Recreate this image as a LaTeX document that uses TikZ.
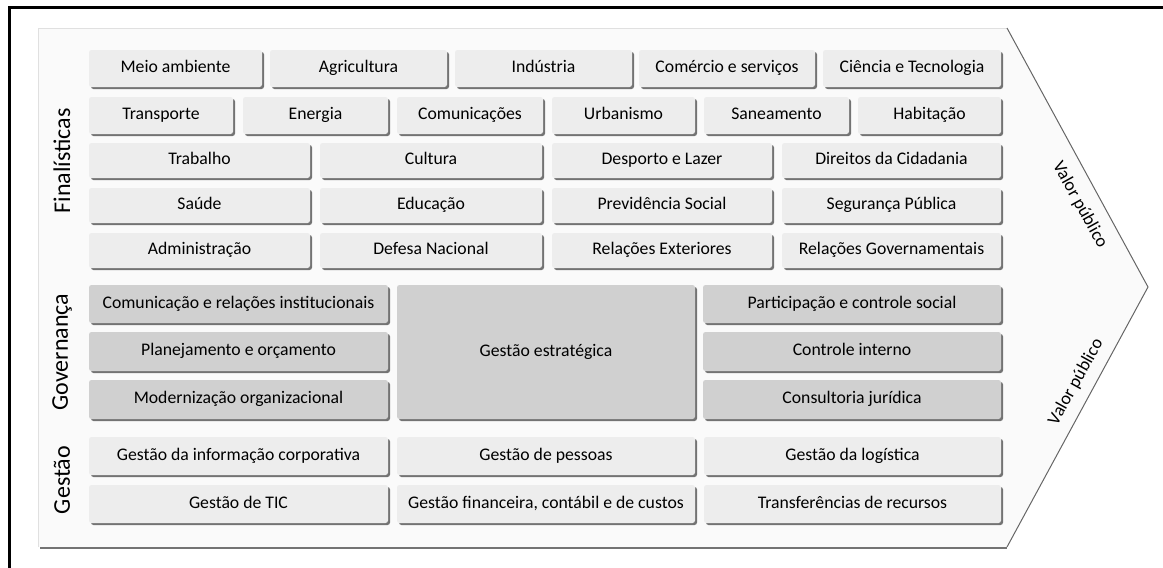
\documentclass[tikz,border=0pt]{standalone}
\usepackage{fontspec}
\setmainfont{Carlito}
\usetikzlibrary{shadows}
\definecolor{boxlight}{HTML}{EDEDED}
\definecolor{boxgov}{HTML}{D0D0D0}
\definecolor{panelfill}{HTML}{FAFAFA}
\tikzset{
  cell/.style={rounded corners=2.5pt, draw=none, inner sep=0pt,
    text height=11.5pt, text depth=3.5pt,
    copy shadow={shadow xshift=2pt, shadow yshift=-2pt, fill=black!55, draw=none},
    font=\fontsize{17.7}{20}\selectfont, text=black},
  light/.style={cell, fill=boxlight},
  gov/.style={cell, fill=boxgov},
  sidelabel/.style={rotate=90, font=\fontsize{24}{28}\selectfont},
  vlabel/.style={font=\fontsize{18}{21}\selectfont},
  edge/.style={draw=black!60, line width=1pt},
}
\newcommand{\bx}[7]{\node[#6, minimum width={(#4-#2)*1pt}, minimum height={(#5-#3)*1pt}] (#1) at ({(#2+#4)/2},{(#3+#5)/2}) {#7};}
\begin{document}
\begin{tikzpicture}[x=1pt,y=-1pt]
\useasboundingbox (0,0) rectangle (1163,568);
% outer frame (top and left only)
\draw[line width=2.2pt] (9.5,568) -- (9.5,7.5) -- (1163,7.5);
% panel
\coordinate (pTL) at (38,28);
\coordinate (pTR) at (1007,28);
\coordinate (pTip) at (1148,287);
\coordinate (pBR) at (1007,547);
\coordinate (pBL) at (38,547);
\fill[panelfill] (pTL) -- (pTR) -- (pTip) -- (pBR) -- (pBL) -- cycle;
\draw[black!12, line width=0.6pt] (pBL) -- (pTL) -- (pTR);
\draw[black!55, line width=2.5pt] (40,548) -- (1007,548);
\draw[edge] (pTR) -- (pTip) -- (pBR);
% Row 1
\bx{r1a}{89}{50}{262}{87}{light}{Meio ambiente}
\bx{r1b}{270}{50}{447}{87}{light}{Agricultura}
\bx{r1c}{455}{50}{632}{87}{light}{Indústria}
\bx{r1d}{639}{50}{815}{87}{light}{Comércio e serviços}
\bx{r1e}{823}{50}{1001}{87}{light}{Ciência e Tecnologia}
% Row 2
\bx{r2a}{89}{97}{233}{134}{light}{Transporte}
\bx{r2b}{243}{97}{388}{134}{light}{Energia}
\bx{r2c}{397}{97}{543}{134}{light}{Comunicações}
\bx{r2d}{552}{97}{695}{134}{light}{Urbanismo}
\bx{r2e}{704}{97}{849}{134}{light}{Saneamento}
\bx{r2f}{858}{97}{1001}{134}{light}{Habitação}
% Row 3
\bx{r3a}{89}{143}{310}{178}{light}{Trabalho}
\bx{r3b}{320}{143}{542}{178}{light}{Cultura}
\bx{r3c}{552}{143}{772}{178}{light}{Desporto e Lazer}
\bx{r3d}{782}{143}{1001}{178}{light}{Direitos da Cidadania}
% Row 4
\bx{r4a}{89}{188}{310}{223}{light}{Saúde}
\bx{r4b}{320}{188}{542}{223}{light}{Educação}
\bx{r4c}{552}{188}{772}{223}{light}{Previdência Social}
\bx{r4d}{782}{188}{1001}{223}{light}{Segurança Pública}
% Row 5
\bx{r5a}{89}{233}{310}{268}{light}{Administração}
\bx{r5b}{320}{233}{542}{268}{light}{Defesa Nacional}
\bx{r5c}{552}{233}{772}{268}{light}{Relações Exteriores}
\bx{r5d}{782}{233}{1001}{268}{light}{Relações Governamentais}
% Governanca
\bx{g1}{89}{285}{388}{323}{gov}{Comunicação e relações institucionais}
\bx{g2}{89}{332}{388}{371}{gov}{Planejamento e orçamento}
\bx{g3}{89}{380}{388}{419}{gov}{Modernização organizacional}
\bx{gm}{397}{285}{695}{419}{gov}{Gestão estratégica}
\bx{g4}{703}{285}{1001}{323}{gov}{Participação e controle social}
\bx{g5}{703}{332}{1001}{371}{gov}{Controle interno}
\bx{g6}{703}{380}{1001}{419}{gov}{Consultoria jurídica}
% Gestao
\bx{m1}{89}{437}{388}{475}{light}{Gestão da informação corporativa}
\bx{m2}{397}{437}{695}{475}{light}{Gestão de pessoas}
\bx{m3}{704}{437}{1001}{475}{light}{Gestão da logística}
\bx{m4}{89}{485}{388}{523}{light}{Gestão de TIC}
\bx{m5}{397}{485}{695}{523}{light}{Gestão financeira, contábil e de custos}
\bx{m6}{704}{485}{1001}{523}{light}{Transferências de recursos}
% side labels
\node[sidelabel] (lf) at (62,161) {Finalísticas};
\node[sidelabel] (lg) at (62,352) {Governança};
\node[sidelabel] (lm) at (62,480) {Gestão};
% valor publico
\node[vlabel, rotate=-61] (v1) at (1080,205) {Valor público};
\node[vlabel, rotate=61] (v2) at (1076,382) {Valor público};
\end{tikzpicture}
\end{document}
